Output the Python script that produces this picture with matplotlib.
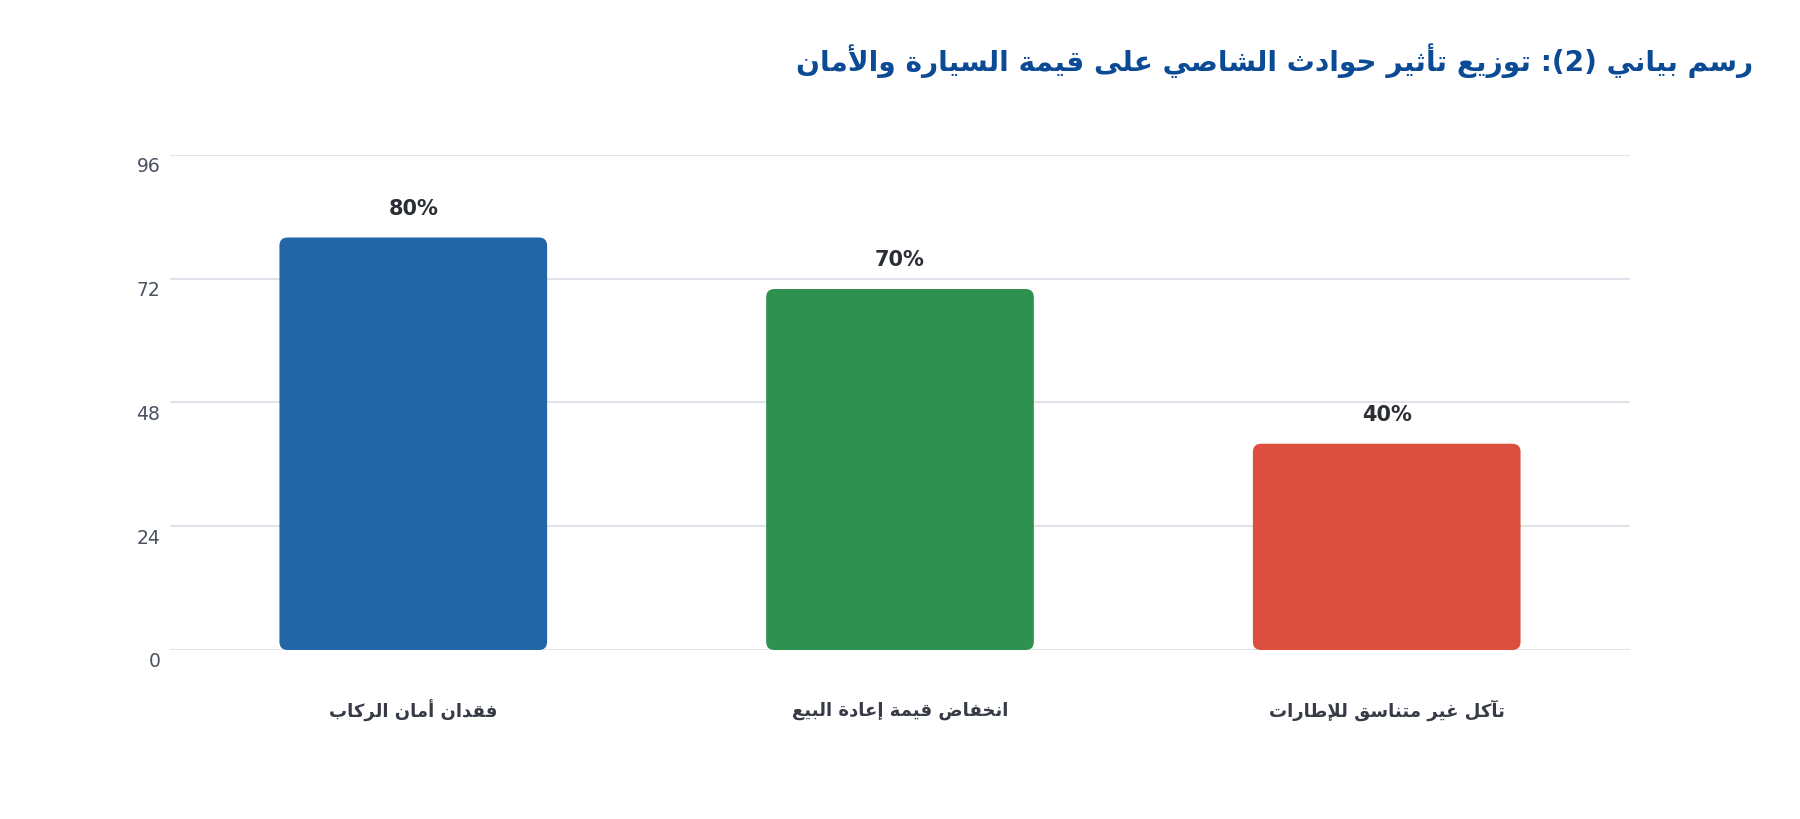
import re
import matplotlib
matplotlib.use("Agg")
import matplotlib.pyplot as plt
from matplotlib.patches import FancyBboxPatch
from matplotlib.transforms import ScaledTranslation

# chart data
title = "رسم بياني (2): توزيع تأثير حوادث الشاصي على قيمة السيارة والأمان"
categories = ["فقدان أمان الركاب", "انخفاض قيمة إعادة البيع", "تآكل غير متناسق للإطارات"]
values = [80, 70, 40]
value_labels = ["80%", "70%", "40%"]
bar_colors = ["#2366a8", "#2e9150", "#dc4f3e"]
yticks = [0, 24, 48, 72, 96]

# --- tiny arabic shaper (matplotlib has no shaping / bidi) ---
FORMS = {}
_code = 0xFE80
for letters, n in [("ء", 1), ("آأؤإ", 2), ("ئ", 4), ("ا", 2), ("ب", 4), ("ة", 2),
                   ("تثجحخ", 4), ("دذرز", 2), ("سشصضطظعغ", 4), ("فقكلمنه", 4),
                   ("وى", 2), ("ي", 4)]:
    for ch in letters:
        FORMS[ch] = [_code + k for k in range(n)]
        _code += n
LAM_ALEF = {"آ": 0xFEF5, "أ": 0xFEF7, "إ": 0xFEF9, "ا": 0xFEFB}


def shape(text):
    out = []
    prev_joins = False
    i = 0
    while i < len(text):
        c = text[i]
        if c not in FORMS:
            out.append(c)
            prev_joins = False
            i += 1
            continue
        nxt = text[i + 1] if i + 1 < len(text) else ""
        if c == "ل" and nxt in LAM_ALEF:
            out.append(chr(LAM_ALEF[nxt] + (1 if prev_joins else 0)))
            prev_joins = False
            i += 2
            continue
        forms = FORMS[c]
        next_ok = len(forms) == 4 and nxt in FORMS and len(FORMS[nxt]) > 1
        if len(forms) == 1:
            f = forms[0]
        elif prev_joins and next_ok:
            f = forms[3]
        elif prev_joins:
            f = forms[1]
        elif next_ok:
            f = forms[2]
        else:
            f = forms[0]
        out.append(chr(f))
        prev_joins = len(forms) == 4
        i += 1
    return "".join(out)


def ar(text):
    s = shape(text)[::-1]
    s = s.translate(str.maketrans("()", ")("))
    return re.sub(r"[0-9]+", lambda m: m.group(0)[::-1], s)


plt.rcParams["font.family"] = ["DejaVu Sans"]

fig = plt.figure(figsize=(18, 8.2), dpi=100)
ax = fig.add_axes([0.0944, 0.2061, 0.8112, 0.6037])

x = list(range(len(categories)))
bars = ax.bar(x, values, width=0.55, color=bar_colors)

# swap plain rectangles for rounded ones
for rect, col in zip(bars, bar_colors):
    rect.set_visible(False)
    rp = FancyBboxPatch((rect.get_x(), rect.get_y()), rect.get_width(), rect.get_height(),
                        boxstyle="round,pad=0,rounding_size=0.017",
                        mutation_aspect=94, facecolor=col, edgecolor="none", zorder=2)
    ax.add_patch(rp)

for xi, v, lab in zip(x, values, value_labels):
    ax.annotate(lab, (xi, v), xytext=(0, 21.5), textcoords="offset points",
                ha="center", va="center", fontsize=15, fontweight="bold", color="#2b2f33")

ax.set_xlim(-0.5, 2.5)
ax.set_ylim(0, 96)
ax.set_yticks(yticks)
ax.set_yticklabels([str(t) for t in yticks], fontsize=13.5, color="#4a5160")
ax.set_xticks([])
ax.tick_params(axis="y", length=0, pad=7)
for lbl in ax.get_yticklabels():
    lbl.set_transform(lbl.get_transform() + ScaledTranslation(0, -0.09, fig.dpi_scale_trans))

ax.grid(axis="y", color="#dfe2e8", linewidth=1.5)
ax.set_axisbelow(True)
for sp in ax.spines.values():
    sp.set_visible(False)

for xi, cat in zip(x, categories):
    ax.annotate(ar(cat), (xi, 0), xytext=(0, -43), textcoords="offset points",
                ha="center", va="center", fontsize=13, fontweight="bold", color="#363b45")

fig.text(0.974, 0.9256, ar(title), ha="right", va="center", fontsize=20.2,
         fontweight="bold", color="#0b4a94")

fig.savefig("out.png", dpi=100, facecolor="white")
